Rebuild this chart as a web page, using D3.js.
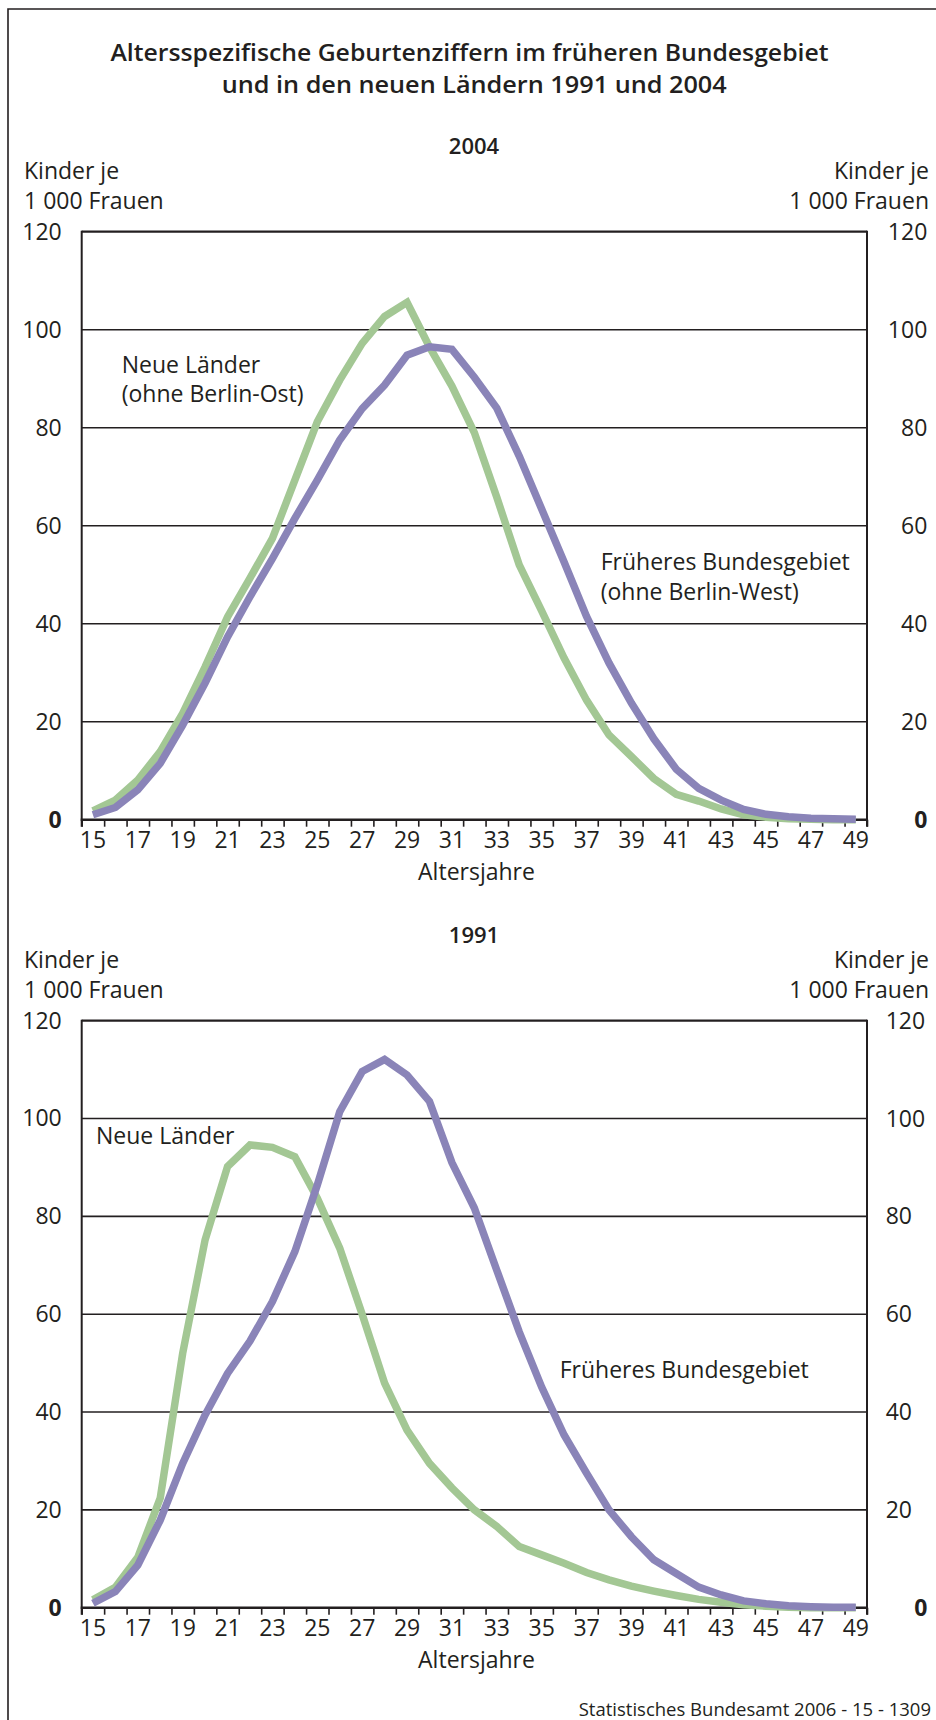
<!DOCTYPE html>
<html><head><meta charset="utf-8">
<script src="https://cdn.jsdelivr.net/npm/d3@7"></script>
<style>
html,body{margin:0;padding:0;background:#fff;}
text{font-family:"Open Sans",sans-serif;fill:#231f20;}
</style></head>
<body>
<svg id="c" width="936" height="1720"></svg>
<script>
// ---- data ----
const ages = [15,16,17,18,19,20,21,22,23,24,25,26,27,28,29,30,31,32,33,34,35,36,37,38,39,40,41,42,43,44,45,46,47,48,49];
const tickLabelAges = [15,17,19,21,23,25,27,29,31,33,35,37,39,41,43,45,47,49];
const yTicks = [0,20,40,60,80,100,120];

// 2004
const neueLaender2004 = [1.8,4.0,8.1,13.9,21.7,31.2,41.4,49.3,57.4,69.3,81.2,89.7,97.2,102.7,105.6,96.5,88.5,79.0,65.8,52.0,42.6,33.0,24.4,17.3,12.9,8.4,5.2,3.8,2.2,1.0,0.5,0.2,0.1,0.0,0.0];
const frueheres2004 = [1.0,2.5,6.1,11.5,19.3,27.9,37.3,45.5,53.3,61.5,69.3,77.5,83.9,88.7,94.8,96.5,96.0,90.3,84.0,74.2,63.4,52.6,41.5,32.0,23.8,16.5,10.3,6.4,4.0,2.1,1.1,0.6,0.3,0.2,0.1];
// 1991
const neueLaender1991 = [1.6,4.2,10.3,22.4,52.0,75.2,90.2,94.6,94.1,92.2,83.7,73.5,60.0,45.9,36.3,29.5,24.5,20.0,16.6,12.5,10.8,9.1,7.2,5.7,4.4,3.4,2.5,1.7,1.1,0.6,0.3,0.1,0.0,0.0,0.0];
const frueheres1991 = [0.9,3.3,8.7,17.9,29.5,39.4,47.9,54.5,62.6,72.8,86.4,101.4,109.6,112.1,108.9,103.5,91.0,81.7,69.0,56.4,45.1,35.3,27.5,20.0,14.5,9.8,7.0,4.2,2.6,1.4,0.8,0.4,0.2,0.1,0.1];

const titleLines = ["Altersspezifische Geburtenziffern im früheren Bundesgebiet","und in den neuen Ländern 1991 und 2004"];
const unitLines = ["Kinder je","1 000 Frauen"];
const xTitle = "Altersjahre";
const source = "Statistisches Bundesamt 2006 - 15 - 1309";

const panels = [
  {year:"2004", green:neueLaender2004, purple:frueheres2004, top:231.7, bottom:819.7, rightAlign:"end",
   labels:[{t:["Neue Länder","(ohne Berlin-Ost)"], x:121.7, y:372.7},
           {t:["Früheres Bundesgebiet","(ohne Berlin-West)"], x:600.7, y:570}]},
  {year:"1991", green:neueLaender1991, purple:frueheres1991, top:1020.7, bottom:1607.7, rightAlign:"start",
   labels:[{t:["Neue Länder"], x:96, y:1144},
           {t:["Früheres Bundesgebiet"], x:559.7, y:1378.3}]}
];

const GREEN = "#a3c794", PURPLE = "#8a84b8", INK = "#231f20";
const L = 81.7, R = 867;

const svg = d3.select("#c");

// outer frame
svg.append("path").attr("d","M8,1720V9H936").attr("fill","none").attr("stroke",INK).attr("stroke-width",1.6);

// title
titleLines.forEach((t,i)=>{
  svg.append("text").attr("x", i===0?469.5:474.2).attr("y", i===0?61:93.3)
    .attr("text-anchor","middle").attr("font-weight",600).attr("font-size",23.5)
    .attr("textLength", i===0?718:505).attr("lengthAdjust","spacingAndGlyphs").text(t);
});

const x = d3.scaleBand().domain(ages).range([L,R]).padding(0);
const xb = d3.scaleLinear().domain([15,50]).range([L,R]);

panels.forEach(p=>{
  const g = svg.append("g");
  const y = d3.scaleLinear().domain([0,120]).range([p.bottom,p.top]);

  // year header
  g.append("text").attr("x",474).attr("y",p.top-77.4).attr("text-anchor","middle")
    .attr("font-weight",600).attr("font-size",22).text(p.year);
  // unit labels
  unitLines.forEach((t,i)=>{
    g.append("text").attr("x",24).attr("y",p.top-52.4+30*i).attr("font-size",23).text(t);
    g.append("text").attr("x",929).attr("y",p.top-52.4+30*i).attr("text-anchor","end").attr("font-size",23).text(t);
  });

  // gridlines
  g.append("g").selectAll("line").data(yTicks.filter(v=>v>0)).join("line")
    .attr("x1",L).attr("x2",R).attr("y1",d=>y(d)).attr("y2",d=>y(d))
    .attr("stroke",INK).attr("stroke-width",d=>d===120?2.2:1.6);
  // vertical axis lines
  g.append("line").attr("x1",L).attr("x2",L).attr("y1",y(120)-1).attr("y2",y(0)+7).attr("stroke",INK).attr("stroke-width",2);
  g.append("line").attr("x1",R).attr("x2",R).attr("y1",y(120)-1).attr("y2",y(0)+7).attr("stroke",INK).attr("stroke-width",2);

  // left y tick labels
  const yl = d3.axisLeft(y).tickValues(yTicks).tickSize(0).tickPadding(20);
  const ga = g.append("g").attr("transform",`translate(${L},0)`).call(yl);
  ga.select(".domain").remove();
  ga.selectAll("text").attr("font-size",23).attr("fill",INK).attr("font-family","Open Sans")
    .attr("font-weight",d=>d===0?"bold":"normal");
  // right y tick labels
  const gr = g.append("g");
  gr.selectAll("text").data(yTicks).join("text")
    .attr("x",d=> (p.rightAlign==="end"||d===0)?927.3:885.7)
    .attr("text-anchor",d=> (p.rightAlign==="end"||d===0)?"end":"start")
    .attr("y",d=>y(d)).attr("dy","0.35em").attr("font-size",23)
    .attr("font-weight",d=>d===0?"bold":"normal").text(d=>d);

  // x tick marks at band boundaries
  const xt = d3.axisBottom(xb).tickValues(d3.range(15,51)).tickFormat("").tickSize(7);
  const gxt = g.append("g").attr("transform",`translate(0,${p.bottom})`).call(xt);
  gxt.select(".domain").remove();
  gxt.selectAll("line").attr("stroke",INK).attr("stroke-width",1.6);
  // x labels centred in bands
  const xa = d3.axisBottom(x).tickValues(tickLabelAges).tickSize(0).tickPadding(12);
  const gx = g.append("g").attr("transform",`translate(0,${p.bottom})`).call(xa);
  gx.select(".domain").remove();
  gx.selectAll("text").attr("font-size",23).attr("fill",INK).attr("font-family","Open Sans").attr("dy","0.71em");
  // x axis line
  g.append("line").attr("x1",L-1).attr("x2",R+1).attr("y1",y(0)).attr("y2",y(0)).attr("stroke",INK).attr("stroke-width",2.6);

  g.append("text").attr("x",476.5).attr("y",p.bottom+60).attr("text-anchor","middle").attr("font-size",23).text(xTitle);

  // lines
  const line = d3.line().x((d,i)=>x(ages[i])+x.bandwidth()/2).y(d=>y(d));
  g.append("path").datum(p.green).attr("d",line).attr("fill","none").attr("stroke",GREEN)
    .attr("stroke-width",7.5).attr("stroke-linejoin","miter");
  g.append("path").datum(p.purple).attr("d",line).attr("fill","none").attr("stroke",PURPLE)
    .attr("stroke-width",7.5).attr("stroke-linejoin","miter");

  // annotations
  p.labels.forEach(lb=>{
    lb.t.forEach((t,i)=>{
      g.append("text").attr("x",lb.x).attr("y",lb.y+29.6*i).attr("font-size",23).text(t);
    });
  });
});

svg.append("text").attr("x",931).attr("y",1716).attr("text-anchor","end").attr("font-size",18.5).text(source);
</script>
</body></html>
